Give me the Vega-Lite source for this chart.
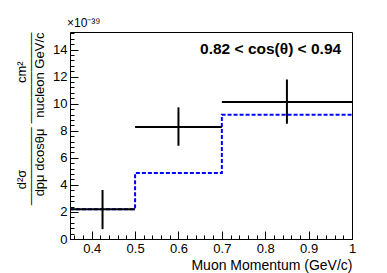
{
  "$schema": "https://vega.github.io/schema/vega-lite/v6.json",
  "width": 282,
  "height": 207,
  "autosize": {"type": "none"},
  "padding": {"left": 70, "top": 32, "right": 35, "bottom": 34},
  "background": "white",
  "title": {"text": "×10⁻³⁹", "anchor": "start", "frame": "group", "fontSize": 12, "fontWeight": "normal", "font": "Liberation Sans", "color": "black", "offset": 2, "dx": -3},
  "datasets": {
    "mc": [
      {"p": 0.35, "xs": 2.2},
      {"p": 0.5, "xs": 4.87},
      {"p": 0.7, "xs": 9.18},
      {"p": 1.0, "xs": 9.18}
    ],
    "meas": [
      {"plo": 0.35, "phi": 0.5, "pc": 0.425, "xs": 2.2, "lo": 0.73, "hi": 3.62},
      {"plo": 0.5, "phi": 0.7, "pc": 0.6, "xs": 8.27, "lo": 6.89, "hi": 9.73},
      {"plo": 0.7, "phi": 1.0, "pc": 0.85, "xs": 10.12, "lo": 8.52, "hi": 11.79}
    ]
  },
  "resolve": {"axis": {"x": "independent", "y": "independent"}},
  "layer": [
    {
      "data": {"name": "mc"},
      "mark": {"type": "line", "interpolate": "step-after", "color": "#0000ff", "strokeWidth": 2, "strokeDash": [4, 2]},
      "encoding": {
        "x": {"field": "p", "type": "quantitative",
          "scale": {"domain": [0.35, 1.0], "nice": false, "zero": false},
          "axis": {
            "orient": "bottom",
            "title": "Muon Momentum (GeV/c)",
            "values": [0.4, 0.5, 0.6, 0.7, 0.8, 0.9, 1],
            "labelExpr": "datum.value == 1 ? '1' : format(datum.value, '.1f')",
            "tickSize": -8,
            "labelPadding": 11,
            "titleAnchor": "end",
            "titleAlign": "right",
            "titleFontSize": 14,
            "titlePadding": 3
          }
        },
        "y": {"field": "xs", "type": "quantitative",
          "scale": {"domain": [0, 15.3], "nice": false, "zero": false},
          "axis": {
            "orient": "left",
            "title": ["d²σ\u00a0\u00a0\u00a0\u00a0\u00a0\u00a0\u00a0\u00a0\u00a0\u00a0\u00a0\u00a0\u00a0\u00a0\u00a0\u00a0\u00a0\u00a0\u00a0\u00a0\u00a0\u00a0\u00a0\u00a0cm²\u00a0\u00a0\u00a0\u00a0\u00a0\u00a0\u00a0\u00a0\u200b", "——————\u00a0———————", "dpμ dcosθμ\u00a0\u00a0\u00a0nucleon GeV/c"],
            "values": [0, 2, 4, 6, 8, 10, 12, 14],
            "format": "d",
            "tickSize": -8,
            "labelPadding": 11,
            "titleAnchor": "end",
            "titleAlign": "right",
            "titleAngle": -90,
            "titleLineHeight": 9,
            "titlePadding": 6
          }
        }
      }
    },
    {
      "data": {"name": "meas"},
      "mark": {"type": "rule", "color": "black", "strokeWidth": 2},
      "encoding": {
        "x": {"field": "plo", "type": "quantitative",
          "axis": {
            "orient": "bottom",
            "title": null,
            "labels": false,
            "domain": false,
            "values": [0.36,0.38,0.42,0.44,0.46,0.48,0.52,0.54,0.56,0.58,0.62,0.64,0.66,0.68,0.72,0.74,0.76,0.78,0.82,0.84,0.86,0.88,0.92,0.94,0.96,0.98],
            "tickSize": -4
          }
        },
        "x2": {"field": "phi"},
        "y": {"field": "xs", "type": "quantitative",
          "axis": {
            "orient": "left",
            "title": null,
            "labels": false,
            "domain": false,
            "values": [0.4,0.8,1.2,1.6,2.4,2.8,3.2,3.6,4.4,4.8,5.2,5.6,6.4,6.8,7.2,7.6,8.4,8.8,9.2,9.6,10.4,10.8,11.2,11.6,12.4,12.8,13.2,13.6,14.4,14.8,15.2],
            "tickSize": -4
          }
        }
      }
    },
    {
      "data": {"name": "meas"},
      "mark": {"type": "rule", "color": "black", "strokeWidth": 2},
      "encoding": {
        "x": {"field": "pc", "type": "quantitative", "axis": null},
        "y": {"field": "lo", "type": "quantitative", "axis": null},
        "y2": {"field": "hi"}
      }
    },
    {
      "data": {"values": [{"label": "0.82 < cos(θ) < 0.94"}]},
      "mark": {"type": "text", "align": "right", "baseline": "alphabetic", "font": "Liberation Sans", "fontWeight": "bold", "fontSize": 15.5, "color": "black"},
      "encoding": {
        "text": {"field": "label"},
        "x": {"datum": 0.975, "type": "quantitative", "axis": null},
        "y": {"datum": 13.64, "type": "quantitative", "axis": null}
      }
    }
  ],
  "config": {
    "view": {"stroke": "black", "strokeWidth": 1},
    "axis": {
      "domainColor": "black",
      "tickColor": "black",
      "grid": false,
      "labelFont": "Liberation Sans",
      "labelFontSize": 13,
      "labelColor": "black",
      "labelOverlap": false,
      "labelFlush": false,
      "titleFont": "Liberation Sans",
      "titleFontSize": 13,
      "titleFontWeight": "normal",
      "titleColor": "black"
    }
  }
}
